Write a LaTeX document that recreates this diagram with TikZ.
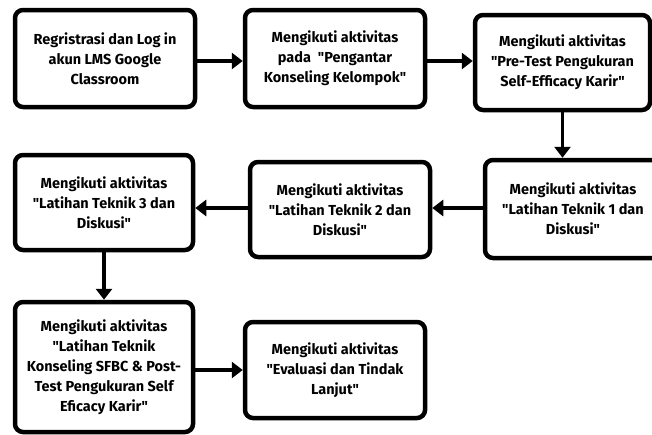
\documentclass[tikz,border=0pt]{standalone}
\usepackage{fontspec}
\setmainfont{Fira Sans}
\usetikzlibrary{arrows.meta}
\newcommand{\qt}{\textquotedbl}
\begin{document}
\begin{tikzpicture}[x=1pt,y=-1pt]
\tikzstyle{stepbox} = [draw, line width=4.5pt, rounded corners=8pt, align=center, font=\bfseries\fontsize{14.5}{20}\selectfont, inner sep=0pt]
\tikzstyle{flow} = [line width=3.5pt, -{Triangle[length=11pt,width=16pt]}]

\useasboundingbox (0,0) rectangle (652,434);

\node[stepbox, minimum width=180pt, minimum height=97pt] (regis) at (105,58.5) {Regristrasi dan Log in\\akun LMS Google\\Classroom};
\node[stepbox, minimum width=180pt, minimum height=97pt] (pengantar) at (335,58.5) {Mengikuti aktivitas\\pada \ \qt Pengantar\\Konseling Kelompok\qt};
\node[stepbox, minimum width=175pt, minimum height=95pt] (pretest) at (562.5,62.5) {Mengikuti aktivitas\\\qt Pre-Test Pengukuran\\Self-Efficacy Karir\qt};

\node[stepbox, minimum width=176pt, minimum height=98pt] (teknik1) at (573,209) {Mengikuti aktivitas\\\qt Latihan Teknik 1 dan\\Diskusi\qt};
\node[stepbox, minimum width=180pt, minimum height=95pt] (teknik2) at (340,209.5) {Mengikuti aktivitas\\\qt Latihan Teknik 2 dan\\Diskusi\qt};
\node[stepbox, minimum width=178pt, minimum height=95pt] (teknik3) at (104,202.5) {Mengikuti aktivitas\\\qt Latihan Teknik 3 dan\\Diskusi\qt};

\node[stepbox, minimum width=178pt, minimum height=130pt] (sfbc) at (104,367) {Mengikuti aktivitas\\\qt Latihan Teknik\\Konseling SFBC \& Post-\\Test Pengukuran Self\\Eficacy Karir\qt};
\node[stepbox, minimum width=180pt, minimum height=96pt] (evaluasi) at (335,370) {Mengikuti aktivitas\\\qt Evaluasi dan Tindak\\Lanjut\qt};

% alur
\draw[flow] (regis.east |- 0,61) -- (pengantar.west |- 0,61);
\draw[flow] (pengantar.east |- 0,61) -- (pretest.west |- 0,61);
\draw[flow] (pretest.south) -- (pretest.south |- teknik1.north);
\draw[flow] (teknik1.west |- 0,208) -- (teknik2.east |- 0,208);
\draw[flow] (teknik2.west |- 0,208) -- (teknik3.east |- 0,208);
\draw[flow] (teknik3.south) -- (sfbc.north);
\draw[flow] (sfbc.east |- evaluasi.west) -- (evaluasi.west);

\end{tikzpicture}
\end{document}
